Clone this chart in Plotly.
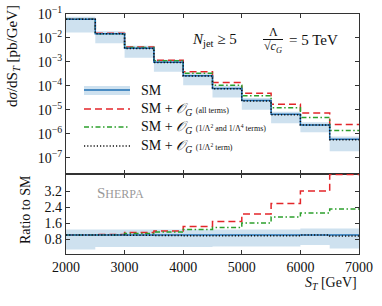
import plotly.graph_objects as go

# ---------------- data ----------------
bin_edges = [2000, 2500, 3000, 3500, 4000, 4500, 5000, 5500, 6000, 6500, 7000]

sm = [0.060, 0.0151, 0.00372, 0.000977, 0.000269, 7.9e-5, 2.45e-5, 6.6e-6, 2.35e-6, 6.0e-7]
sm_band_lo = [0.0168, 0.0060, 0.00149, 0.00039, 0.000108, 3.3e-5, 1.03e-5, 2.8e-6, 1.18e-6, 1.9e-7]
sm_band_hi = [0.077, 0.0193, 0.00476, 0.00125, 0.000344, 1.01e-4, 3.14e-5, 8.4e-6, 3.1e-6, 7.9e-7]
og_all = [0.060, 0.0156, 0.00417, 0.00117, 0.00039, 1.38e-4, 5.0e-5, 1.72e-5, 7.4e-6, 2.46e-6]
og_l2l4 = [0.060, 0.0151, 0.00398, 0.00112, 0.000342, 1.08e-4, 3.9e-5, 1.25e-5, 4.9e-6, 1.38e-6]
og_l2 = [0.060, 0.0151, 0.00368, 0.000957, 0.000261, 7.6e-5, 2.35e-5, 6.3e-6, 2.35e-6, 5.7e-7]

ratio_sm = [1.0] * 10
ratio_band_lo = [0.28, 0.40, 0.40, 0.40, 0.40, 0.42, 0.42, 0.42, 0.50, 0.32]
ratio_band_hi = [1.28, 1.28, 1.28, 1.28, 1.28, 1.28, 1.28, 1.28, 1.32, 1.32]
ratio_all = [1.0, 1.03, 1.12, 1.2, 1.42, 1.68, 2.05, 2.58, 3.2, 4.02]
ratio_l2l4 = [1.0, 1.0, 1.07, 1.15, 1.27, 1.37, 1.6, 1.9, 2.1, 2.3]
ratio_l2 = [1.0, 1.0, 0.99, 0.98, 0.96, 0.96, 0.96, 0.96, 1.0, 0.95]

x_ticks = [2000, 3000, 4000, 5000, 6000, 7000]
y_ticks_top = [1e-1, 1e-2, 1e-3, 1e-4, 1e-5, 1e-6, 1e-7]
y_ticktext_top = ["10<sup>−1</sup>", "10<sup>−2</sup>", "10<sup>−3</sup>", "10<sup>−4</sup>",
                  "10<sup>−5</sup>", "10<sup>−6</sup>", "10<sup>−7</sup>"]
y_ticks_ratio = [0.8, 1.6, 2.4, 3.2]

# ---------------- style ----------------
FONT = "Liberation Serif"
C_SM = "#1f6fb4"
C_BAND = "rgba(31,119,180,0.22)"
C_RED = "#e3262a"
C_GREEN = "#2ca02c"
C_BLACK = "#111111"
AX = "#333333"
DASH_RED = "7px,4px"
DASH_GREEN = "5px,2.5px,1.5px,2.5px"
DASH_BLACK = "1.2px,2px"

W, H = 382, 306
L, R, T, B = 66, 23, 14, 52
plot_h = H - T - B
split = 80 / plot_h


def step(v):
    return list(v) + [v[-1]]


def px(xp):
    return (xp - L) / (W - L - R)


def py(yp):
    return (H - B - yp) / plot_h


fig = go.Figure()

for (lo, hi, xa, ya) in [(sm_band_lo, sm_band_hi, "x", "y"), (ratio_band_lo, ratio_band_hi, "x2", "y2")]:
    fig.add_trace(go.Scatter(x=bin_edges, y=step(lo), mode="lines", line=dict(width=0, shape="hv"),
                             xaxis=xa, yaxis=ya, showlegend=False, hoverinfo="skip"))
    fig.add_trace(go.Scatter(x=bin_edges, y=step(hi), mode="lines", line=dict(width=0, shape="hv"),
                             fill="tonexty", fillcolor=C_BAND,
                             xaxis=xa, yaxis=ya, showlegend=False, hoverinfo="skip"))

series_top = [(og_all, C_RED, DASH_RED), (og_l2l4, C_GREEN, DASH_GREEN),
              (sm, C_SM, "solid"), (og_l2, C_BLACK, DASH_BLACK)]
series_ratio = [(ratio_all, C_RED, DASH_RED), (ratio_l2l4, C_GREEN, DASH_GREEN),
                (ratio_sm, C_SM, "solid"), (ratio_l2, C_BLACK, DASH_BLACK)]
for vals, col, dash in series_top:
    fig.add_trace(go.Scatter(x=bin_edges, y=step(vals), mode="lines",
                             line=dict(color=col, width=1.5, dash=dash, shape="hv"),
                             xaxis="x", yaxis="y", showlegend=False))
for vals, col, dash in series_ratio:
    fig.add_trace(go.Scatter(x=bin_edges, y=step(vals), mode="lines",
                             line=dict(color=col, width=1.5, dash=dash, shape="hv"),
                             xaxis="x2", yaxis="y2", showlegend=False))

common_axis = dict(showline=True, linecolor=AX, linewidth=1.2, mirror="ticks", ticks="inside",
                   ticklen=4, tickcolor=AX, showgrid=False, zeroline=False, automargin=False,
                   tickfont=dict(family=FONT, size=14, color="#111"))

fig.update_layout(
    width=W, height=H, margin=dict(l=L, r=R, t=T, b=B, autoexpand=False),
    paper_bgcolor="white", plot_bgcolor="white", showlegend=False,
    xaxis=dict(common_axis, range=[2000, 7000], domain=[0, 1], anchor="y", tickvals=x_ticks,
               showticklabels=False),
    yaxis=dict(common_axis, type="log", range=[-7.67, -1], domain=[split, 1], anchor="x",
               tickvals=y_ticks_top, ticktext=y_ticktext_top),
    xaxis2=dict(common_axis, range=[2000, 7000], domain=[0, 1], anchor="y2", tickvals=x_ticks,
                ticktext=[str(v) for v in x_ticks]),
    yaxis2=dict(common_axis, range=[0.05, 4.05], domain=[0, split], anchor="x2",
                tickvals=y_ticks_ratio, ticktext=[f"{v:.1f}" for v in y_ticks_ratio]),
)


def note(xp, yp, text, size=14, xanchor="center", color="#111", angle=0):
    return dict(x=px(xp), y=py(yp), xref="paper", yref="paper", text=text, textangle=angle,
                xanchor=xanchor, yanchor="middle", showarrow=False,
                font=dict(family=FONT, size=size, color=color))


ann = []
# axis titles
ann.append(note(13, 56, "d<i>σ</i>/dS<sub><i>T</i></sub> [pb/GeV]", size=15, angle=-90))
ann.append(note(25, 210, "Ratio to SM", size=14, angle=-90))
ann.append(note(359, 283, "<i>S<sub>T</sub></i> [GeV]", size=14, xanchor="right"))
# header
ann.append(note(190, 40, "<i>N</i><sub>jet</sub> ≥ 5", size=15, xanchor="left"))
ann.append(note(273, 32, "Λ", size=12))
ann.append(note(273, 47, "√<i>c</i><sub><i>G</i></sub>", size=12))
ann.append(note(287, 40, "= 5 TeV", size=15, xanchor="left"))
# Sherpa label
ann.append(note(95, 193, "S<span style='font-size:12px'>HERPA</span>", size=15, xanchor="left", color="#999"))
# legend texts
leg_rows = [(90, "SM", None),
            (109, "SM + <i>𝒪</i><sub><i>G</i></sub>", "(all terms)"),
            (127, "SM + <i>𝒪</i><sub><i>G</i></sub>", "(1/Λ<sup>2</sup> and 1/Λ<sup>4</sup> terms)"),
            (146, "SM + <i>𝒪</i><sub><i>G</i></sub>", "(1/Λ<sup>2</sup> term)")]
for yrow, main, small in leg_rows:
    txt = main if small is None else main + " <span style='font-size:8px'>" + small + "</span>"
    ann.append(note(139, yrow, txt, size=14, xanchor="left"))
fig.update_layout(annotations=ann)

shapes = []
# fraction bar
shapes.append(dict(type="line", xref="paper", yref="paper", x0=px(263), x1=px(283), y0=py(39.5), y1=py(39.5),
                   line=dict(color="#111", width=1)))
# legend samples
shapes.append(dict(type="rect", xref="paper", yref="paper", x0=px(84), x1=px(130), y0=py(86), y1=py(95),
                   fillcolor=C_BAND, line=dict(width=0)))
leg_lines = [(90, C_SM, "solid"), (109, C_RED, DASH_RED), (127, C_GREEN, DASH_GREEN), (146, C_BLACK, DASH_BLACK)]
for yrow, col, dash in leg_lines:
    shapes.append(dict(type="line", xref="paper", yref="paper", x0=px(84), x1=px(130), y0=py(yrow), y1=py(yrow),
                       line=dict(color=col, width=1.5, dash=dash)))
fig.update_layout(shapes=shapes)

fig.write_html("out.html", config={"displayModeBar": False},
               post_script="document.body.style.margin='0';document.body.style.overflow='hidden';")
